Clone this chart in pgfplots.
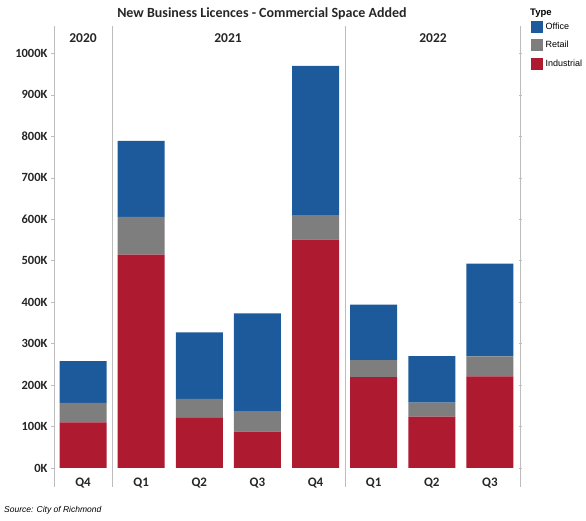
\documentclass[border=0pt]{standalone}
\usepackage{fontspec}
\setmainfont{Carlito}
\newfontfamily\arialfont{Liberation Sans}
\usepackage{pgfplots}
\pgfplotsset{compat=1.18}
\definecolor{office}{HTML}{1D5A9B}
\definecolor{retail}{HTML}{7E7E7E}
\definecolor{industrial}{HTML}{AE1A2F}
\definecolor{sep}{HTML}{BDBDBD}
\definecolor{txt}{HTML}{262626}
\begin{document}
\begin{tikzpicture}[x=1pt,y=1pt]
\useasboundingbox (0,0) rectangle (586,521);
% separators
\foreach \xx in {54,112,345,520}{\draw[sep, line width=0.7pt] (\xx,34) -- (\xx,495);}
\begin{axis}[
  at={(54pt,53pt)}, anchor=south west,
  width=465pt, height=418pt, scale only axis,
  ybar stacked, bar width=47pt,
  xmin=-0.5, xmax=7.5, ymin=0, ymax=1008.4,
  xtick={0,...,7}, xticklabels={Q4,Q1,Q2,Q3,Q4,Q1,Q2,Q3},
  ytick={0,100,...,1000},
  yticklabels={0K,100K,200K,300K,400K,500K,600K,700K,800K,900K,1000K},
  axis line style={draw=none},
  x tick style={draw=none},
  y tick style={sep, line width=0.6pt},
  major tick length=3pt, tick align=outside,
  xticklabel style={font=\fontsize{13}{15}\bfseries\selectfont, text=txt, yshift=-3pt},
  yticklabel style={font=\fontsize{12.5}{14}\bfseries\selectfont, text=txt},
  legend style={at={(1.0258,1.07)}, anchor=north west, draw=none, fill=none,
    font=\arialfont\fontsize{9}{10}\selectfont, row sep=6.5pt, inner sep=0pt,
    nodes={inner xsep=2.5pt}},
  legend cell align=left, reverse legend,
  clip=false,
]
\addplot[fill=industrial, draw=none, legend image code/.code={\fill[industrial] (0pt,-6pt) rectangle (12pt,6pt);}]
  coordinates {(0,110) (1,515) (2,121) (3,88) (4,551) (5,219) (6,124) (7,221)};
\addlegendentry{Industrial}
\addplot[fill=retail, draw=none, legend image code/.code={\fill[retail] (0pt,-6pt) rectangle (12pt,6pt);}]
  coordinates {(0,47) (1,91) (2,46) (3,49) (4,59) (5,41) (6,34) (7,48)};
\addlegendentry{Retail}
\addplot[fill=office, draw=none, legend image code/.code={\fill[office] (0pt,-6pt) rectangle (12pt,6pt);}]
  coordinates {(0,101) (1,183) (2,160) (3,236) (4,360) (5,134) (6,112) (7,224)};
\addlegendentry{Office}
\end{axis}
\node[font=\fontsize{14}{16}\bfseries\selectfont, text=txt] at (262,507) {New Business Licences - Commercial Space Added};
\node[font=\fontsize{13.5}{15}\bfseries\selectfont, text=txt] at (83,483) {2020};
\node[font=\fontsize{13.5}{15}\bfseries\selectfont, text=txt] at (228,483) {2021};
\node[font=\fontsize{13.5}{15}\bfseries\selectfont, text=txt] at (433,483) {2022};
\node[anchor=west, font=\arialfont\bfseries\fontsize{9.5}{11}\selectfont, inner sep=0pt] at (530,508) {Type};
\node[anchor=west, font=\arialfont\itshape\fontsize{8.5}{10}\selectfont, inner sep=0pt] at (4,11) {Source: City of Richmond};
\end{tikzpicture}
\end{document}
